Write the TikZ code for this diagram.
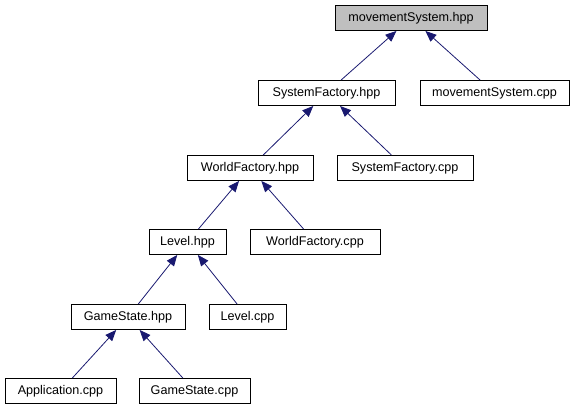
\documentclass[tikz,border=0pt]{standalone}
\usepackage{fontspec}
\setmainfont{Liberation Sans}
\usetikzlibrary{arrows.meta}
\definecolor{edgeblue}{HTML}{191970}
\definecolor{boxgray}{HTML}{BFBFBF}
\tikzset{
  filebox/.style={draw=black, line width=0.9pt, fill=white, inner sep=0pt,
    minimum height=25pt, font=\fontsize{12.6}{14}\selectfont},
  curbox/.style={filebox, fill=boxgray},
  dep/.style={draw=edgeblue, line width=0.8pt,
    -{Triangle[length=11pt,width=9pt]}, edgeblue}
}
\begin{document}
\begin{tikzpicture}[x=1pt,y=-1pt]
\useasboundingbox (0,0) rectangle (576,411);
\node[curbox, minimum width=152pt] (msh) at (411,18) {movementSystem.hpp};
\node[filebox, minimum width=137pt] (sfh) at (326.5,93) {SystemFactory.hpp};
\node[filebox, minimum width=149pt] (msc) at (494.5,93) {movementSystem.cpp};
\node[filebox, minimum width=126pt] (wfh) at (250,168) {WorldFactory.hpp};
\node[filebox, minimum width=136pt] (sfc) at (405,168) {SystemFactory.cpp};
\node[filebox, minimum width=77pt] (lh) at (187.5,242) {Level.hpp};
\node[filebox, minimum width=130pt] (wfc) at (315,242) {WorldFactory.cpp};
\node[filebox, minimum width=114pt] (gsh) at (128,317) {GameState.hpp};
\node[filebox, minimum width=77pt] (lc) at (247.5,317) {Level.cpp};
\node[filebox, minimum width=111pt] (ac) at (60.5,391) {Application.cpp};
\node[filebox, minimum width=111pt] (gsc) at (194.5,391) {GameState.cpp};
\draw[dep] (sfh) -- (msh);
\draw[dep] (msc) -- (msh);
\draw[dep] (wfh) -- (sfh);
\draw[dep] (sfc) -- (sfh);
\draw[dep] (lh) -- (wfh);
\draw[dep] (wfc) -- (wfh);
\draw[dep] (gsh) -- (lh);
\draw[dep] (lc) -- (lh);
\draw[dep] (ac) -- (gsh);
\draw[dep] (gsc) -- (gsh);
\end{tikzpicture}
\end{document}
